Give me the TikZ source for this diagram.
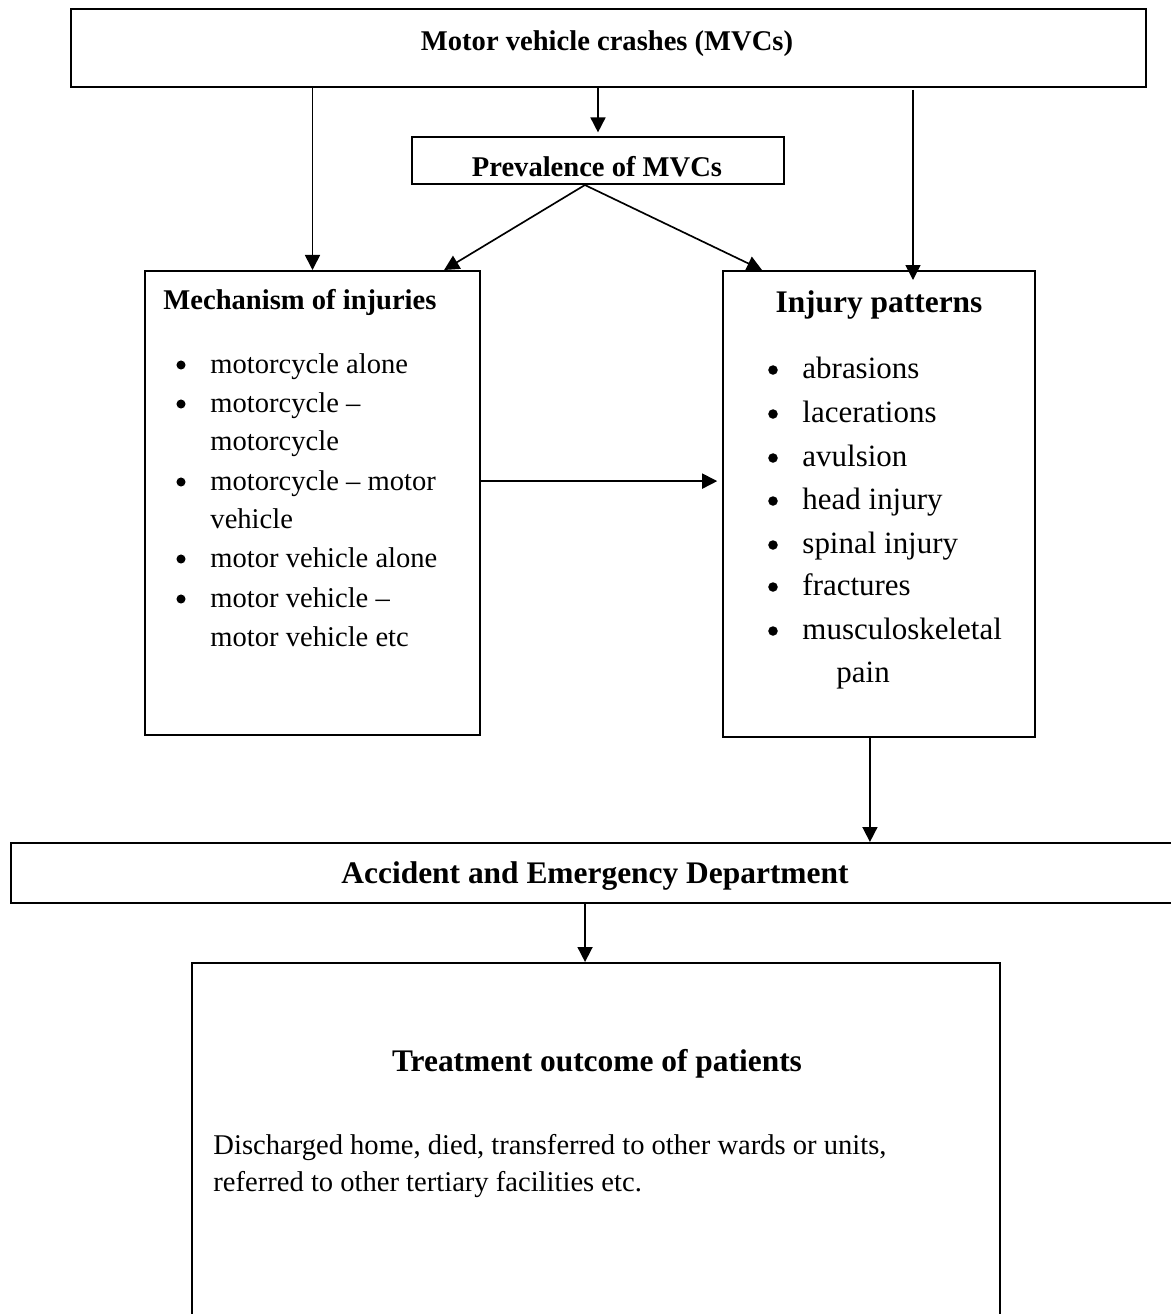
\documentclass[tikz,border=0pt]{standalone}
\usepackage{fontspec}
\setmainfont{Liberation Serif}
\usetikzlibrary{arrows.meta,fit}
\begin{document}
\begin{tikzpicture}[x=0.42pt,y=-0.42pt,
  box/.style={draw,line width=0.85pt,inner sep=0pt},
  conn/.style={line width=0.7pt,-{Triangle[length=6.3pt,width=6.3pt]}},
  ttl/.style={inner sep=0pt,font=\fontsize{12}{14}\selectfont\bfseries},
  bigttl/.style={inner sep=0pt,font=\fontsize{13.2}{16}\selectfont\bfseries},
  txt/.style={inner sep=0pt,anchor=base west,font=\fontsize{12}{14}\selectfont},
  itm/.style={inner sep=0pt,anchor=base west,font=\fontsize{12}{14}\selectfont},
  itmb/.style={inner sep=0pt,anchor=base west,font=\fontsize{13}{15}\selectfont},
  bul/.style={circle,fill,inner sep=0pt,minimum size=3.8pt},
  bulb/.style={circle,fill,inner sep=0pt,minimum size=4pt}]
\clip (0,0) rectangle (1171,1314);
% boxes
\node[box,fit={(71,9)(1146,87)}] (mvc) {};
\node[box,fit={(412,137)(784,184)}] (prev) {};
\node[box,fit={(145,271)(480,735)}] (mech) {};
\node[box,fit={(723,271)(1035,737)}] (inj) {};
\node[box,fit={(11,843)(1200,903)}] (aed) {};
\node[box,fit={(192,963)(1000,1345)}] (treat) {};
% titles
\node[ttl,anchor=base] (tmvc) at (607,50) {Motor vehicle crashes (MVCs)};
\node[ttl,anchor=base] (tprev) at (597,176) {Prevalence of MVCs};
\node[ttl,anchor=base west] (tmech) at (163,309) {Mechanism of injuries};
\node[bigttl,anchor=base] (tinj) at (879,312) {Injury patterns};
\node[bigttl,anchor=base] (taed) at (595,883) {Accident and Emergency Department};
\node[bigttl,anchor=base] (ttreat) at (597,1071) {Treatment outcome of patients};
% mechanism list
\node[bul] (mb1) at (181,365) {};
\node[itm] (m1) at (210,373) {motorcycle alone};
\node[bul] (mb2) at (181,404) {};
\node[itm] (m2) at (210,412) {motorcycle –};
\node[itm] (m3) at (210,450) {motorcycle};
\node[bul] (mb4) at (181,482) {};
\node[itm] (m4) at (210,490) {motorcycle – motor};
\node[itm] (m5) at (210,528) {vehicle};
\node[bul] (mb6) at (181,559) {};
\node[itm] (m6) at (210,567) {motor vehicle alone};
\node[bul] (mb7) at (181,599) {};
\node[itm] (m7) at (210,607) {motor vehicle –};
\node[itm] (m8) at (210,646) {motor vehicle etc};
% injury list
\node[bulb] (ib1) at (773,370) {};
\node[itmb] (i1) at (802,378) {abrasions};
\node[bulb] (ib2) at (773,414) {};
\node[itmb] (i2) at (802,422) {lacerations};
\node[bulb] (ib3) at (773,458) {};
\node[itmb] (i3) at (802,466) {avulsion};
\node[bulb] (ib4) at (773,501) {};
\node[itmb] (i4) at (802,509) {head injury};
\node[bulb] (ib5) at (773,545) {};
\node[itmb] (i5) at (802,553) {spinal injury};
\node[bulb] (ib6) at (773,587) {};
\node[itmb] (i6) at (802,595) {fractures};
\node[bulb] (ib7) at (773,631) {};
\node[itmb] (i7) at (802,639) {musculoskeletal};
\node[itmb] (i8) at (836,682) {pain};
% outcome text
\node[txt] (o1) at (213,1154) {Discharged home, died, transferred to other wards or units,};
\node[txt] (o2) at (213,1191) {referred to other tertiary facilities etc.};
% connectors
\draw[conn] (mech.north |- mvc.south) -- (mech.north);
\draw[conn] (prev.north |- mvc.south) -- ([yshift=1.5pt]prev.north);
\coordinate (injin) at (913,280);
\draw[conn] ([yshift=-0.8pt]injin |- mvc.south) -- (injin);
\draw[conn] ([xshift=-5.5pt]prev.south) -- ([xshift=-15.5pt]mech.north east);
\draw[conn] ([xshift=-5.5pt]prev.south) -- ([xshift=16.8pt]inj.north west);
\coordinate (hstart) at ([yshift=9.2pt]mech.east);
\draw[conn] (hstart) -- ([xshift=-2pt]hstart -| inj.west);
\coordinate (d1) at ([xshift=-3.8pt]inj.south);
\draw[conn] (d1) -- (d1 |- aed.north);
\coordinate (d2) at ([xshift=-4.6pt]treat.north);
\draw[conn] (d2 |- aed.south) -- (d2);
\end{tikzpicture}
\end{document}
